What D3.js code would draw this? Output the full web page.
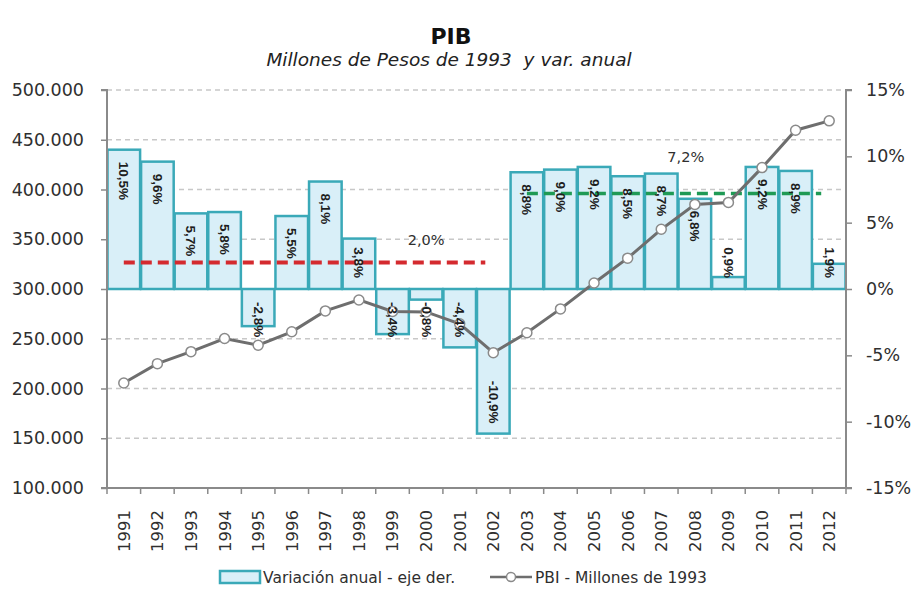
<!DOCTYPE html>
<html>
<head>
<meta charset="utf-8">
<script src="https://cdn.jsdelivr.net/npm/d3@7"></script>
<style>
  html, body { margin: 0; padding: 0; background: #fff; }
  svg { display: block; font-family: "DejaVu Sans", sans-serif; }
</style>
</head>
<body>
<svg id="chart" width="912" height="591"></svg>
<script>
// ---- Data ----
const years = ["1991","1992","1993","1994","1995","1996","1997","1998","1999","2000","2001","2002","2003","2004","2005","2006","2007","2008","2009","2010","2011","2012"];
const growth = [10.5, 9.6, 5.7, 5.8, -2.8, 5.5, 8.1, 3.8, -3.4, -0.8, -4.4, -10.9, 8.8, 9.0, 9.2, 8.5, 8.7, 6.8, 0.9, 9.2, 8.9, 1.9];
const pbi = [205500, 225000, 237000, 250200, 243500, 257000, 278000, 289000, 277500, 277000, 265000, 236000, 256000, 280000, 306000, 331000, 360000, 385000, 387000, 422000, 459600, 469000];
const leftTicks = [100000, 150000, 200000, 250000, 300000, 350000, 400000, 450000, 500000];
const rightTicks = [-15, -10, -5, 0, 5, 10, 15];
const averages = [
  { label: "2,0%", value: 2.0, from: "1991", to: "2002", color: "#d42a2f", labelYear: "2000", labelOffset: 0, labelPct: 3.7 },
  { label: "7,2%", value: 7.2, from: "2003", to: "2012", color: "#1f9a55", labelYear: "2008", labelOffset: -0.27, labelPct: 9.95 }
];
const title = "PIB";
const subtitle = "Millones de Pesos de 1993  y var. anual";
const legendBar = "Variación anual - eje der.";
const legendLine = "PBI - Millones de 1993";

// ---- Layout ----
const svg = d3.select("#chart");
const L = 107, R = 846, T = 90, B = 488;

const x = d3.scaleBand().domain(years).range([L, R]).padding(0);
const yL = d3.scaleLinear().domain([100000, 500000]).range([B, T]);
const yR = d3.scaleLinear().domain([-15, 15]).range([B, T]);

const loc = d3.formatLocale({ decimal: ",", thousands: ".", grouping: [3], currency: ["", ""] });
const fmtL = loc.format(",.0f");
const fmtPct = d => d.toFixed(1).replace(".", ",") + "%";

const axisColor = "#8a8a8a";
const textColor = "#2f2f2f";

// Title
svg.append("text").attr("x", 451).attr("y", 44).attr("text-anchor", "middle")
  .attr("font-size", 22).attr("font-weight", "bold").attr("fill", "#111").text(title);
svg.append("text").attr("x", 449).attr("y", 66).attr("text-anchor", "middle")
  .attr("font-size", 18.5).attr("font-style", "italic").attr("fill", "#222")
  .style("white-space", "pre").text(subtitle);

// Gridlines
svg.append("g").selectAll("line").data(leftTicks.filter(d => d !== 100000 && d !== 300000)).join("line")
  .attr("x1", L).attr("x2", R).attr("y1", d => yL(d)).attr("y2", d => yL(d))
  .attr("stroke", "#c8c8c8").attr("stroke-width", 1.5).attr("stroke-dasharray", "5,4");

// Bars
const y0 = yR(0);
svg.append("g").selectAll("rect").data(years).join("rect")
  .attr("x", d => x(d) + 0.5)
  .attr("width", x.bandwidth() - 1)
  .attr("y", (d, i) => Math.min(yR(growth[i]), y0))
  .attr("height", (d, i) => Math.abs(yR(growth[i]) - y0))
  .attr("fill", "#d9eff8").attr("stroke", "#3aa9b8").attr("stroke-width", 2.5);

// Average lines
averages.forEach(a => {
  svg.append("line")
    .attr("x1", x(a.from) + x.bandwidth() / 2)
    .attr("x2", x(a.to) + x.bandwidth() / 2 - 8)
    .attr("y1", yR(a.value)).attr("y2", yR(a.value))
    .attr("stroke", a.color).attr("stroke-width", a.color === "#d42a2f" ? 4 : 3.5)
    .attr("stroke-dasharray", "11,6");
  svg.append("text")
    .attr("x", x(a.labelYear) + x.bandwidth() * (0.5 + a.labelOffset))
    .attr("y", yR(a.labelPct)).attr("dy", "0.35em")
    .attr("text-anchor", "middle").attr("font-size", 14.5).attr("fill", textColor)
    .text(a.label);
});

// Line
const line = d3.line().x((d, i) => x(years[i]) + x.bandwidth() / 2).y(d => yL(d));
svg.append("path").datum(pbi).attr("d", line)
  .attr("fill", "none").attr("stroke", "#6e6e6e").attr("stroke-width", 3);
svg.append("g").selectAll("circle").data(pbi).join("circle")
  .attr("cx", (d, i) => x(years[i]) + x.bandwidth() / 2)
  .attr("cy", d => yL(d)).attr("r", 5)
  .attr("fill", "#fff").attr("stroke", "#8a8a8a").attr("stroke-width", 1.5);

// Bar labels (rotated)
const lblG = svg.append("g");
years.forEach((yr, i) => {
  const v = growth[i];
  const cx = x(yr) + x.bandwidth() / 2;
  const t = lblG.append("text")
    .attr("font-family", "Liberation Sans, Arial, sans-serif")
    .attr("font-size", 13.5).attr("font-weight", "bold").attr("fill", "#1e1e1e")
    .attr("dominant-baseline", "central")
    .text(fmtPct(v));
  const len = t.node().getComputedTextLength();
  let start;
  if (v >= 0) {
    start = Math.min(yR(v) + 12, y0 - 11 - len);
  } else {
    const end = Math.max(yR(v) - 10, y0 + 13 + len);
    start = end - len;
  }
  t.attr("transform", `translate(${cx},${start}) rotate(90)`);
});

// Axes
const gL = svg.append("g").attr("transform", `translate(${L},0)`)
  .call(d3.axisLeft(yL).tickValues(leftTicks).tickFormat(fmtL).tickSize(6).tickPadding(17));
const gR = svg.append("g").attr("transform", `translate(${R},0)`)
  .call(d3.axisRight(yR).tickValues(rightTicks).tickFormat(d => d + "%").tickSize(6).tickPadding(14));
const gB = svg.append("g").attr("transform", `translate(0,${B})`)
  .call(d3.axisBottom(x).tickSize(0).tickPadding(0));

[gL, gR].forEach(g => {
  g.select(".domain").attr("stroke", axisColor).attr("stroke-width", 2);
  g.selectAll(".tick line").attr("stroke", axisColor).attr("stroke-width", 1.5);
  g.selectAll(".tick text").attr("font-size", 17.5).attr("fill", textColor)
    .attr("font-family", "DejaVu Sans, sans-serif");
});
gL.select(".domain").attr("d", `M-6,${T}H0V${B}H-6`);
gR.select(".domain").attr("d", `M6,${T}H0V${B}H6`);

gB.select(".domain").attr("stroke", axisColor).attr("stroke-width", 2).attr("d", `M${L - 6},0H${R + 6}`);
gB.selectAll(".tick text")
  .attr("font-size", 16.5).attr("fill", textColor).attr("font-family", "DejaVu Sans, sans-serif")
  .attr("text-anchor", "end").attr("transform", "rotate(-90)")
  .attr("x", -22).attr("y", 0).attr("dy", "0.36em");
// category boundary ticks
gB.append("g").selectAll("line").data(d3.range(years.length + 1)).join("line")
  .attr("x1", i => L + i * x.bandwidth()).attr("x2", i => L + i * x.bandwidth())
  .attr("y1", 0).attr("y2", 6).attr("stroke", axisColor).attr("stroke-width", 1.5);

// Legend
const lg = svg.append("g");
lg.append("rect").attr("x", 220).attr("y", 571).attr("width", 40).attr("height", 12)
  .attr("fill", "#d9eff8").attr("stroke", "#3aa9b8").attr("stroke-width", 2.5);
lg.append("text").attr("x", 263).attr("y", 583).attr("font-size", 15.5).attr("fill", textColor).text(legendBar);
lg.append("line").attr("x1", 490).attr("x2", 532).attr("y1", 577).attr("y2", 577)
  .attr("stroke", "#6e6e6e").attr("stroke-width", 2.5);
lg.append("circle").attr("cx", 511).attr("cy", 577).attr("r", 4.5)
  .attr("fill", "#fff").attr("stroke", "#8a8a8a").attr("stroke-width", 1.5);
lg.append("text").attr("x", 535).attr("y", 583).attr("font-size", 15.5).attr("fill", textColor).text(legendLine);
</script>
</body>
</html>
